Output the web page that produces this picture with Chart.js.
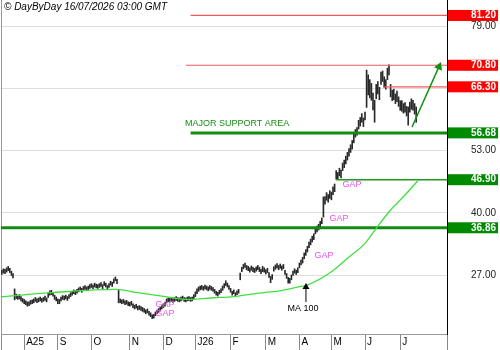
<!DOCTYPE html>
<html><head><meta charset="utf-8">
<script src="https://cdn.jsdelivr.net/npm/chart.js@4.4.1/dist/chart.umd.min.js"></script>
<style>html,body{margin:0;padding:0;background:#fff;}canvas{display:block;}</style>
</head><body>
<canvas id="c" width="500" height="350"></canvas>
<script>
// ---- data (daily bars, index 0 = first bar) ----
const lows = [
27.1,27.4,27.3,27.6,27.9,27.5,26.9,26.4,21.8,22.1,
21.9,22.0,21.6,21.3,21.0,20.8,20.5,20.6,20.9,21.0,
21.2,21.5,21.2,21.4,21.6,21.3,21.5,21.7,21.4,22.3,
22.8,22.9,22.6,21.9,21.6,21.0,21.0,21.6,21.9,21.8,
22.0,21.7,22.1,22.5,22.8,23.1,22.9,23.2,23.5,23.7,
23.4,23.8,24.0,23.7,23.9,24.2,24.4,24.1,24.5,24.3,
24.2,24.4,24.6,24.1,24.8,24.5,23.9,24.4,24.9,24.6,
25.3,25.8,25.2,21.2,21.2,21.0,21.1,20.8,20.9,20.6,
20.5,20.7,20.2,19.9,20.1,19.7,19.8,19.6,19.4,19.2,
18.9,19.1,18.6,18.3,17.9,18.0,18.5,18.9,19.2,19.5,
19.9,20.2,20.5,21.2,21.4,21.3,21.5,21.3,21.5,21.7,
21.5,21.4,21.6,21.8,21.5,21.4,21.6,21.7,21.5,21.6,
22.0,22.5,23.1,23.6,23.9,24.0,23.8,24.1,23.9,23.7,
24.0,23.8,23.6,23.2,22.8,22.6,23.0,23.3,23.8,24.3,
24.8,24.5,24.0,23.4,22.8,23.1,22.5,22.9,23.2,26.0,
27.7,28.3,28.6,28.1,27.9,27.6,28.0,27.7,27.5,27.8,
28.1,27.7,27.3,27.7,27.6,27.2,27.5,26.5,25.4,26.1,
27.8,28.2,28.5,28.1,28.4,28.0,28.3,27.1,26.3,25.3,
25.3,26.0,26.9,27.4,27.1,27.5,28.5,29.1,29.5,30.4,
31.1,31.8,32.7,33.3,33.9,34.4,35.6,36.0,36.4,37.0,
37.7,39.1,41.8,42.6,42.2,43.0,42.7,43.8,44.4,47.0,
46.9,47.7,47.3,48.8,49.4,50.2,51.0,51.8,52.6,53.3,
54.6,55.8,56.2,57.5,58.1,58.9,58.0,59.4,62.0,64.6,
64.0,63.5,61.5,58.9,63.8,64.8,63.6,66.8,67.4,66.2,
65.8,67.8,68.8,64.2,63.4,63.6,62.8,63.2,62.2,61.4,
61.2,60.8,61.0,60.2,58.3,61.0,61.6,61.4,60.6,58.9];
const highs = [
28.0,28.3,28.2,28.5,28.8,28.4,27.8,27.3,24.1,23.0,
22.8,22.9,22.5,22.1,21.9,21.6,21.4,21.4,21.7,21.8,
22.0,22.3,22.0,22.2,22.4,22.1,22.3,22.6,22.2,23.3,
23.7,23.8,23.4,22.8,22.4,22.0,21.9,22.4,22.7,22.6,
22.8,22.5,22.9,23.3,23.6,23.9,23.7,24.0,24.3,24.5,
24.2,24.6,24.8,24.5,24.7,25.0,25.2,24.9,25.3,25.1,
25.0,25.2,25.4,25.0,25.6,25.3,24.8,25.2,25.7,25.5,
26.2,26.6,26.1,23.9,22.0,21.8,21.9,21.6,21.7,21.4,
21.3,21.5,21.0,20.7,20.9,20.5,20.6,20.4,20.2,20.0,
19.7,19.9,19.4,19.1,18.7,18.8,19.3,19.7,20.0,20.3,
20.7,21.0,21.3,22.0,22.2,22.1,22.3,22.1,22.3,22.5,
22.3,22.2,22.4,22.6,22.3,22.2,22.4,22.5,22.3,22.4,
22.9,23.5,24.1,24.5,24.7,24.8,24.6,24.9,24.7,24.5,
24.8,24.6,24.4,24.0,23.6,23.4,23.8,24.1,24.7,25.2,
25.8,25.3,24.8,24.2,23.6,23.9,23.3,23.7,24.0,27.4,
28.6,29.2,29.5,29.0,28.8,28.5,28.9,28.6,28.4,28.7,
29.0,28.6,28.2,28.8,28.5,28.1,28.4,27.5,26.7,27.1,
28.7,29.1,29.4,29.0,29.3,28.9,29.2,28.0,27.3,26.5,
26.3,27.0,27.8,28.3,28.0,28.5,29.5,30.1,30.7,31.6,
32.3,33.0,33.9,34.5,35.1,35.6,36.8,37.2,37.6,38.2,
38.9,43.3,43.4,44.2,43.8,44.6,44.3,45.4,46.0,48.8,
48.4,49.3,48.9,50.4,51.0,51.8,52.6,53.4,54.2,55.1,
56.6,57.4,57.8,59.3,59.9,60.7,59.8,61.0,69.8,68.8,
67.8,67.0,65.0,63.5,66.8,67.4,66.2,69.4,69.6,68.4,
67.8,70.2,70.9,66.8,65.6,65.8,64.8,65.4,64.2,63.4,
63.4,62.8,63.0,62.2,62.1,63.1,63.8,63.5,62.8,62.1];

const monthLabels = ['A25','S','O','N','D','J26','F','M','A','M','J','J'];
const monthIdx = [14,35,56,80,101,121,143,165,186,206,227,249];

const maIdx = [0,31,71,85,100,116,133,145,156,164,175,185,191,206,216,227,234,243,252,260];
const maVal = [22.46,23.30,24.01,23.3,22.61,21.92,22.25,22.50,23.02,23.34,23.76,24.49,24.90,27.68,30.48,33.61,36.75,40.57,43.70,46.69];

const levelVals  = [81.2, 70.8, 66.3, 56.68, 46.9, 36.86];
const levelStart = [118, 115, 239, 118, 209, -0.5];
const gridVals = [27, 40, 53, 66, 79];
const yTicks      = [27, 36.86, 40, 46.9, 53, 56.68, 66, 66.3, 70.8, 79, 81.2];
const yTickLabels = ['27.00','36.86','40.00','46.90','53.00','56.68','','66.30','70.80','79.00','81.20'];

const gapIdx = [102, 102, 218.9, 210.75, 201.4];
const gapVal = [20.83, 18.97, 46.0, 38.9, 31.17];
const trendArrowIdx = [256.4, 273.25];
const trendArrowVal = [57.9, 70.52];
const maArrowIdx = [190.1, 190.1];
const maArrowVal = [21.37, 24.49];
const maLabelPos = [188.25, 20.1];
const supportLabelPos = [114.5, 58.74];

const headerText = '© DayByDay 16/07/2026 03:00 GMT';
const X_MIN = -0.5, X_MAX = 278.25, Y_MIN = 14.68, Y_MAX = 84.43;

// ---- styles ----
const FONT = "'Liberation Sans', Arial, Helvetica, sans-serif";
Chart.defaults.font.family = FONT;
const RED_LINE = '#f05a5a', RED_BOX = '#ff0000';
const GREEN_LINE = '#118c11', GREEN_BOX = '#008a00';
const levelColor = [RED_LINE, RED_LINE, RED_LINE, GREEN_LINE, '#1f9a1f', GREEN_LINE];
const levelWidth = [1.2, 1.2, 1.2, 3, 1.5, 3];
const levelBox = [RED_BOX, RED_BOX, RED_BOX, GREEN_BOX, GREEN_BOX, GREEN_BOX];

const datasets = [];
datasets.push({
  type: 'bar', xAxisID: 'x', yAxisID: 'y',
  data: lows.map((l, i) => ({x: i, y: [l, highs[i]]})),
  backgroundColor: '#2a2a2a', borderWidth: 0, barThickness: 1, order: 3
});
datasets.push({
  type: 'line', xAxisID: 'x', yAxisID: 'y',
  data: maIdx.map((v, i) => ({x: v, y: maVal[i]})),
  borderColor: '#3fe03f', borderWidth: 1.3, pointRadius: 0,
  cubicInterpolationMode: 'monotone', order: 1
});
levelVals.forEach((v, k) => {
  datasets.push({
    type: 'line', xAxisID: 'x', yAxisID: 'y',
    data: [{x: levelStart[k], y: v}, {x: X_MAX, y: v}],
    borderColor: levelColor[k], borderWidth: levelWidth[k], pointRadius: 0, order: 2
  });
});
datasets.push({
  type: 'line', xAxisID: 'x', yAxisID: 'y',
  data: trendArrowIdx.map((v, i) => ({x: v, y: trendArrowVal[i]})),
  borderColor: '#139013', borderWidth: 1.5,
  pointRadius: [0, 5], pointStyle: 'triangle', pointRotation: 24,
  pointBackgroundColor: '#139013', pointBorderColor: '#139013', pointBorderWidth: 0, order: 0
});
datasets.push({
  type: 'line', xAxisID: 'x', yAxisID: 'y',
  data: maArrowIdx.map((v, i) => ({x: v, y: maArrowVal[i]})),
  borderColor: '#000', borderWidth: 1,
  pointRadius: [0, 4], pointStyle: 'triangle', pointRotation: 0,
  pointBackgroundColor: '#000', pointBorderColor: '#000', pointBorderWidth: 0, order: 0
});

const xTickVals = [X_MIN, ...monthIdx, X_MAX];
const xTickLabels = ['', ...monthLabels, ''];
const isLevel = v => levelVals.includes(v);
const noPad = s => { s.paddingTop = 0; s.paddingBottom = 0; s.paddingLeft = 0; s.paddingRight = 0; };

const notesPlugin = {
  id: 'notes',
  afterDatasetsDraw(chart) {
    const {ctx, scales: {x, y}} = chart;
    ctx.save();
    ctx.textBaseline = 'middle';
    ctx.textAlign = 'center';
    ctx.font = `9px ${FONT}`;
    ctx.fillStyle = '#f050f0';
    gapIdx.forEach((gi, k) => ctx.fillText('GAP', x.getPixelForValue(gi), y.getPixelForValue(gapVal[k])));
    ctx.fillStyle = '#000';
    ctx.fillText('MA 100', x.getPixelForValue(maLabelPos[0]), y.getPixelForValue(maLabelPos[1]));
    ctx.fillStyle = '#139013';
    ctx.textAlign = 'left';
    ctx.fillText('MAJOR SUPPORT AREA', x.getPixelForValue(supportLabelPos[0]), y.getPixelForValue(supportLabelPos[1]));
    ctx.restore();
  },
  afterDraw(chart) {
    const ctx = chart.ctx;
    ctx.save();
    ctx.font = `italic 10px ${FONT}`;
    ctx.fillStyle = '#000';
    ctx.textBaseline = 'middle';
    ctx.textAlign = 'left';
    ctx.fillText(headerText, 4, 7);
    ctx.restore();
  }
};

new Chart(document.getElementById('c'), {
  type: 'bar',
  data: {datasets},
  plugins: [notesPlugin],
  options: {
    responsive: false, animation: false, events: [],
    layout: {padding: 0, autoPadding: false},
    plugins: {legend: {display: false}, tooltip: {enabled: false}, title: {display: false}},
    scales: {
      x: {
        type: 'linear', position: 'bottom', min: X_MIN, max: X_MAX, offset: false, bounds: 'data',
        afterBuildTicks: s => { s.ticks = xTickVals.map(v => ({value: v})); },
        afterFit: s => { s.height = 16; noPad(s); },
        ticks: {autoSkip: false, maxRotation: 0, minRotation: 0, align: 'start', labelOffset: 2, padding: -14,
          callback: (v, i) => xTickLabels[i], font: {size: 10}, color: '#000'},
        grid: {drawOnChartArea: false, drawTicks: true, tickLength: 16, color: '#888', offset: false},
        border: {display: true, color: '#999'}
      },
      y: {
        type: 'linear', position: 'right', min: Y_MIN, max: Y_MAX, bounds: 'data',
        afterBuildTicks: s => { s.ticks = yTicks.map(v => ({value: v})); },
        afterFit: s => { s.width = 53; noPad(s); },
        grid: {drawTicks: false, lineWidth: 1,
          color: c => (c.tick && gridVals.includes(c.tick.value)) ? '#dedede' : 'rgba(0,0,0,0)'},
        border: {display: true, color: '#000', width: 1},
        ticks: {autoSkip: false, padding: 24, crossAlign: 'near',
          callback: (v, i) => yTickLabels[i],
          font: c => ({size: 10, lineHeight: 1.1, weight: (c.tick && isLevel(c.tick.value)) ? 'bold' : 'normal'}),
          color: c => (c.tick && isLevel(c.tick.value)) ? '#fff' : '#222',
          showLabelBackdrop: c => !!(c.tick && isLevel(c.tick.value)),
          backdropColor: c => (c.tick && isLevel(c.tick.value)) ? levelBox[levelVals.indexOf(c.tick.value)] : 'rgba(0,0,0,0)',
          backdropPadding: {left: 23, right: 2, top: 0, bottom: 0}
        }
      },
      y2: {
        type: 'linear', position: 'left', min: 0, max: 1, display: true,
        afterFit: s => { s.width = 1; noPad(s); },
        ticks: {display: false}, grid: {display: false},
        border: {display: true, color: '#999'}
      }
    }
  }
});
</script>
</body></html>
